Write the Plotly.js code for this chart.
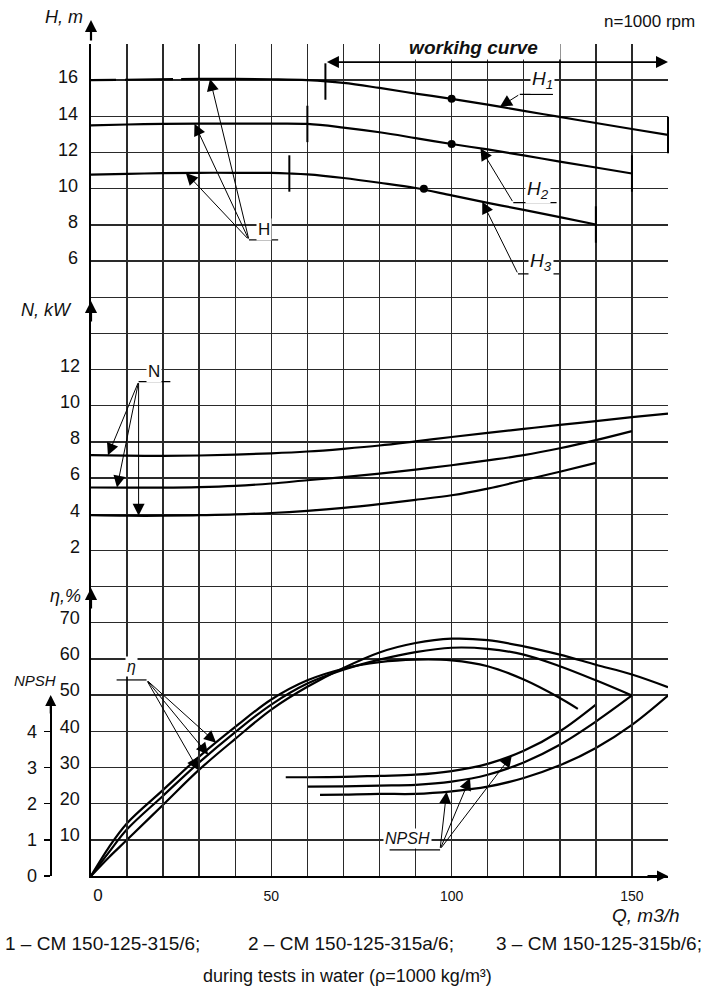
<!DOCTYPE html>
<html><head><meta charset="utf-8">
<script src="https://cdn.plot.ly/plotly-3.0.1.min.js"></script>
<style>html,body{margin:0;padding:0;background:#fff;} #chart{width:705px;height:1000px;}</style>
</head><body><div id="chart"></div>
<script>
// ---------------- data ----------------
// Head H, m
const hQ1 = [0,10,20,25,30,40,50,60,70,80,90,100,110,120,130,140,150,160];
const h1  = [16.0,16.03,16.05,16.06,16.07,16.07,16.05,16.0,15.85,15.57,15.26,14.97,14.65,14.3,13.97,13.63,13.3,12.97];
const hQ2 = [0,10,20,30,40,50,60,70,80,90,100,110,120,130,140,150];
const h2  = [13.5,13.55,13.58,13.6,13.6,13.6,13.58,13.38,13.12,12.8,12.47,12.17,11.84,11.5,11.17,10.84];
const hQ3 = [0,10,20,30,40,50,55,60,70,80,90,100,110,120,130,140];
const h3  = [10.78,10.82,10.86,10.88,10.88,10.87,10.84,10.79,10.59,10.33,10.04,9.63,9.22,8.83,8.43,8.02];
const dutyQ = [100,100,92.3];
const dutyH = [14.97,12.47,10.0];
const workFrom = [65,60,55];
const workTo   = [160,150,140];
// Power N, kW
const nQ1 = [0,10,20,30,40,50,60,70,80,90,100,110,120,130,140,150,160];
const n1  = [7.27,7.24,7.23,7.25,7.3,7.37,7.47,7.62,7.8,8.03,8.27,8.5,8.72,8.94,9.15,9.37,9.57];
const nQ2 = [0,10,20,30,40,50,60,70,80,90,100,110,120,130,140,150];
const n2  = [5.48,5.47,5.47,5.5,5.57,5.7,5.88,6.05,6.25,6.47,6.71,6.98,7.27,7.65,8.1,8.6];
const nQ3 = [0,10,20,30,40,50,60,70,80,90,100,110,120,130,140];
const n3  = [3.95,3.92,3.92,3.95,3.99,4.07,4.19,4.35,4.56,4.8,5.05,5.42,5.88,6.35,6.84];
// Efficiency eta, %
const eQ1 = [0,5,10,20,30,40,50,60,70,80,90,100,110,120,130,140,150,160];
const e1  = [0,5.2,10.0,19.7,29.4,37.9,46.0,52.3,57.5,61.8,64.4,65.6,65.2,63.5,61.2,58.4,55.7,52.2];
const eQ2 = [0,5,10,20,30,40,50,60,70,80,90,100,110,120,130,140,150];
const e2  = [0,6.6,12.9,22.2,31.4,39.8,47.4,53.2,57.0,59.8,61.9,63.1,62.8,61.2,58.0,54.1,49.9];
const eQ3 = [0,5,10,20,30,40,50,60,70,80,90,100,110,120,130,135];
const e3  = [0,8.0,14.6,23.8,33.0,41.2,48.8,54.1,57.3,59.1,59.8,59.6,58.0,54.3,49.2,46.2];
// NPSH, m
const pQ1 = [63.5,70,80,90,100,110,120,130,140,150,160];
const p1  = [2.24,2.25,2.27,2.27,2.34,2.47,2.71,3.06,3.54,4.18,4.99];
const pQ2 = [60,70,80,90,100,110,120,130,140,150];
const p2  = [2.47,2.48,2.5,2.52,2.61,2.8,3.14,3.63,4.27,4.99];
const pQ3 = [54,60,70,80,90,100,110,120,130,140];
const p3  = [2.73,2.73,2.74,2.77,2.8,2.9,3.1,3.46,4.0,4.74];
// tick labels
const qTicks    = [0,50,100,150];
const hTicks    = [6,8,10,12,14,16];
const nTicks    = [2,4,6,8,10,12];
const etaTicks  = [10,20,30,40,50,60,70];
const npshTicks = [0,1,2,3,4];
const captions  = ['1 – CM 150-125-315/6;','2 – CM 150-125-315a/6;','3 – CM 150-125-315b/6;'];

// ---------------- helpers ----------------
const FONT = 'Liberation Sans, Arial, sans-serif';
const W = 705, H = 1000, ML = 10, MR = 37, MT = 44, MB = 124;
const PW = W - ML - MR, PH = H - MT - MB;
const px = v => (v - ML) / PW;          // pixel x -> paper
const py = v => (H - MB - v) / PH;      // pixel y -> paper
function interp(xs, ys, q){
  for (let i=0;i<xs.length-1;i++){
    if (q>=xs[i] && q<=xs[i+1]) return ys[i]+(ys[i+1]-ys[i])*(q-xs[i])/(xs[i+1]-xs[i]);
  }
  return q<xs[0]?ys[0]:ys[ys.length-1];
}
const LINE = {color:'#000', width:2.2, shape:'spline', smoothing:1};
function curve(xs, ys, yaxis, extra){
  return Object.assign({type:'scatter', mode:'lines', x:xs, y:ys, yaxis:yaxis, xaxis:'x',
    line:Object.assign({}, LINE), hoverinfo:'skip', showlegend:false}, extra||{});
}

// ---------------- traces ----------------
const split = hQ1.indexOf(25);
const traces = [
  {type:'scatter', mode:'lines', x:[], y:[], xaxis:'x', yaxis:'y4', showlegend:false, hoverinfo:'skip'},
  curve(hQ1.slice(0,split+1), h1.slice(0,split+1), 'y2', {line:{color:'#000',width:2.2,dash:'25px,9px,48px,9px'}}),
  curve(hQ1.slice(split), h1.slice(split), 'y2'),
  curve(hQ2, h2, 'y2'),
  curve(hQ3, h3, 'y2'),
  {type:'scatter', mode:'markers', x:dutyQ, y:dutyH, yaxis:'y2', xaxis:'x', showlegend:false, hoverinfo:'skip',
   marker:{color:'#000', size:8}},
  {type:'scatter', mode:'markers', showlegend:false, hoverinfo:'skip', xaxis:'x', yaxis:'y2',
   x: workFrom.concat(workTo),
   y: [interp(hQ1,h1,workFrom[0]), interp(hQ2,h2,workFrom[1]), interp(hQ3,h3,workFrom[2]),
       interp(hQ1,h1,workTo[0]), interp(hQ2,h2,workTo[1]), interp(hQ3,h3,workTo[2])],
   marker:{symbol:'line-ns', size:26, line:{color:'#000', width:2}}, cliponaxis:false},
  curve(nQ1, n1, 'y3'),
  curve(nQ2, n2, 'y3'),
  curve(nQ3, n3, 'y3'),
  curve(eQ1, e1, 'y'),
  curve(eQ2, e2, 'y'),
  curve(eQ3, e3, 'y'),
  curve(pQ1, p1, 'y5'),
  curve(pQ2, p2, 'y5'),
  curve(pQ3, p3, 'y5')
];

// ---------------- axes ----------------
const gridVals = []; for (let v=0; v<=230; v+=10) gridVals.push(v);
const gridText = gridVals.map(v => etaTicks.includes(v) ? String(v) : '');
const qGrid = []; for (let v=0; v<=160; v+=10) qGrid.push(v);
const qText = qGrid.map(v => v===0 ? '<span style="font-size:17px">\u00A0\u00A0\u00A00</span>' : (qTicks.includes(v) ? String(v) : ''));

const GRID = '#2a2a2a';
const layout = {
  width:W, height:H, margin:{l:ML, r:MR, t:MT, b:MB}, paper_bgcolor:'#fff', plot_bgcolor:'rgba(0,0,0,0)',
  font:{family:FONT, color:'#111', size:18}, showlegend:false,
  xaxis:{domain:[px(91),1], range:[0,160], tickmode:'array', tickvals:qGrid, ticktext:qText,
    showgrid:true, gridcolor:GRID, gridwidth:1.4, zeroline:false, showline:true, linecolor:'#000', linewidth:2,
    ticks:'', ticklabelstandoff:6, tickfont:{size:14, color:'#111'}, fixedrange:true},
  yaxis:{range:[0,230], tickmode:'array', tickvals:gridVals, ticktext:gridText,
    showgrid:true, gridcolor:GRID, gridwidth:1.4, zeroline:false, showline:true, linecolor:'#000', linewidth:2.5,
    ticks:'', ticklabelstandoff:5, ticklabelshift:-5, tickfont:{size:18}},
  yaxis2:{overlaying:'y', anchor:'x', side:'left', range:[-28,18], tickmode:'array', tickvals:hTicks,
    showgrid:false, zeroline:false, showline:false, ticks:'', ticklabelstandoff:12, ticklabelshift:-3, tickfont:{size:18}},
  yaxis3:{overlaying:'y', anchor:'x', side:'left', range:[-16,30], tickmode:'array', tickvals:nTicks,
    showgrid:false, zeroline:false, showline:false, ticks:'', ticklabelstandoff:10, ticklabelshift:-4, tickfont:{size:18}},
  yaxis4:{domain:[0, py(700)], anchor:'free', position:px(50.7), side:'left', range:[0,(876-700)/36.17],
    tickmode:'array', tickvals:npshTicks, showgrid:false, zeroline:false, showline:true, linecolor:'#000', linewidth:2,
    ticks:'outside', ticklen:6, tickwidth:1.5, tickcolor:'#000', ticklabelstandoff:3, tickfont:{size:18}},
  yaxis5:{overlaying:'y', anchor:'x', range:[0,23], showgrid:false, zeroline:false, showline:false, showticklabels:false, ticks:''},
  shapes:[], annotations:[]
};

// ---------------- annotations ----------------
const A = layout.annotations, S = layout.shapes;
function text(t, x, y, xref, yref, font, extra){
  A.push(Object.assign({text:t, x:x, y:y, xref:xref, yref:yref, showarrow:false,
    font:Object.assign({family:FONT, size:18, color:'#111'}, font||{}), xanchor:'center', yanchor:'middle'}, extra||{}));
}
function arrow(xt, yt, xh, yh, yref, w){
  A.push({text:'', x:xh, y:yh, xref:'x', yref:yref, ax:xt, ay:yt, axref:'x', ayref:yref,
    showarrow:true, arrowhead:2, arrowsize:2.4, arrowwidth:w||1, arrowcolor:'#000'});
}
function under(x0, x1, y, yref){
  S.push({type:'line', xref:'x', yref:yref, x0:x0, x1:x1, y0:y, y1:y, line:{color:'#000', width:1.2}});
}
function axisArrow(xp, yp, xref){
  A.push({text:'', x:xp, y:yp, xref:xref||'x', yref:'paper', ax:0, ay:22, showarrow:true,
    arrowhead:2, arrowsize:1.1, arrowwidth:2.2, arrowcolor:'#000'});
}
// axis arrows
axisArrow(0, py(20));
axisArrow(0, py(301));
axisArrow(0, py(588));
A.push({text:'', x:px(50.7), y:py(695), xref:'paper', yref:'paper', ax:0, ay:20, showarrow:true,
  arrowhead:2, arrowsize:1.1, arrowwidth:2, arrowcolor:'#000'});
A.push({text:'', x:160, y:0, xref:'x', yref:'paper', ax:-22, ay:0, showarrow:true,
  arrowhead:2, arrowsize:1.1, arrowwidth:2, arrowcolor:'#000'});

// axis titles and texts
text('<i>H, m</i>', px(63.5), py(17), 'paper', 'paper');
text('<i>N, kW</i>', px(46.5), py(310), 'paper', 'paper');
text('<i>η,%</i>', px(65), py(596), 'paper', 'paper');
text('<i>NPSH</i>', px(34.5), py(680), 'paper', 'paper', {size:15});
text('<i>Q, m3/h</i>', px(646), py(915), 'paper', 'paper', {size:19});
text('n=1000 rpm', px(649), py(22), 'paper', 'paper', {size:17});
text(captions[0], px(102), py(943), 'paper', 'paper', {size:19});
text(captions[1], px(351), py(943), 'paper', 'paper', {size:19});
text(captions[2], px(599), py(943), 'paper', 'paper', {size:19});
text('during tests in water (ρ=1000 kg/m³)', px(347), py(976), 'paper', 'paper', {size:18});

// working curve
A.push({text:'', x:workTo[0], y:17, xref:'x', yref:'y2', ax:workFrom[0], ay:17, axref:'x', ayref:'y2',
  showarrow:true, arrowhead:2, arrowside:'end+start', arrowsize:1.5, arrowwidth:1.6, arrowcolor:'#000'});
text('<b><i>\u00A0\u00A0\u00A0\u00A0workihg curve\u00A0\u00A0\u00A0\u00A0</i></b>', 106, py(47), 'x', 'paper', {size:19}, {bgcolor:'#fff'});

// H labels
text('<i>H<sub>1</sub></i>', 125.3, 16.0, 'x', 'y2', {size:19}, {bgcolor:'#fff'});
under(118.9, 128.1, 15.22, 'y2'); arrow(118.9, 15.22, 113.4, interp(hQ1,h1,113.4), 'y2');
text('<i>H<sub>2</sub></i>', 124.0, 9.93, 'x', 'y2', {size:19}, {bgcolor:'#fff'});
under(117.1, 129.1, 9.23, 'y2'); arrow(117.1, 9.23, 108, interp(hQ2,h2,108), 'y2');
text('<i>H<sub>3</sub></i>', 124.8, 5.97, 'x', 'y2', {size:19}, {bgcolor:'#fff'});
under(118.4, 129.8, 5.29, 'y2'); arrow(118.4, 5.29, 108.5, interp(hQ3,h3,108.5), 'y2');
text('H', 47.9, 7.72, 'x', 'y2', {size:17}, {bgcolor:'#fff'});
under(43.8, 51.9, 7.17, 'y2');
arrow(43.8, 7.17, 33, interp(hQ1,h1,33), 'y2');
arrow(43.8, 7.17, 28.7, interp(hQ2,h2,28.7), 'y2');
arrow(43.8, 7.17, 26.3, interp(hQ3,h3,26.3), 'y2');
// N label
text('N', 17.6, 11.89, 'x', 'y3', {size:17}, {bgcolor:'#fff'});
under(13.2, 22.0, 11.33, 'y3');
arrow(13.2, 11.33, 4.7, interp(nQ1,n1,4.7), 'y3');
arrow(13.2, 11.33, 7.2, interp(nQ2,n2,7.2), 'y3');
arrow(13.2, 11.33, 13.2, interp(nQ3,n3,13.2), 'y3');
// eta label
text('<i>η</i>', 11.1, 58, 'x', 'y', {size:16}, {bgcolor:'#fff'});
under(7.1, 15.4, 54.2, 'y');
arrow(15.4, 54.2, 34.7, interp(eQ3,e3,34.7), 'y');
arrow(15.4, 54.2, 32.5, interp(eQ2,e2,32.5), 'y');
arrow(15.4, 54.2, 29.8, interp(eQ1,e1,29.8), 'y');
// NPSH label
text('<i>NPSH</i>', 87.9, 1.04, 'x', 'y5', {size:16}, {bgcolor:'#fff'});
under(82.8, 96.8, 0.72, 'y5');
arrow(96.8, 0.74, 98.6, interp(pQ1,p1,98.6), 'y5');
arrow(96.8, 0.74, 105.1, interp(pQ2,p2,105.1), 'y5');
arrow(96.8, 0.74, 116.7, interp(pQ3,p3,116.7), 'y5');

Plotly.newPlot('chart', traces, layout, {displayModeBar:false, staticPlot:true});
</script></body></html>
